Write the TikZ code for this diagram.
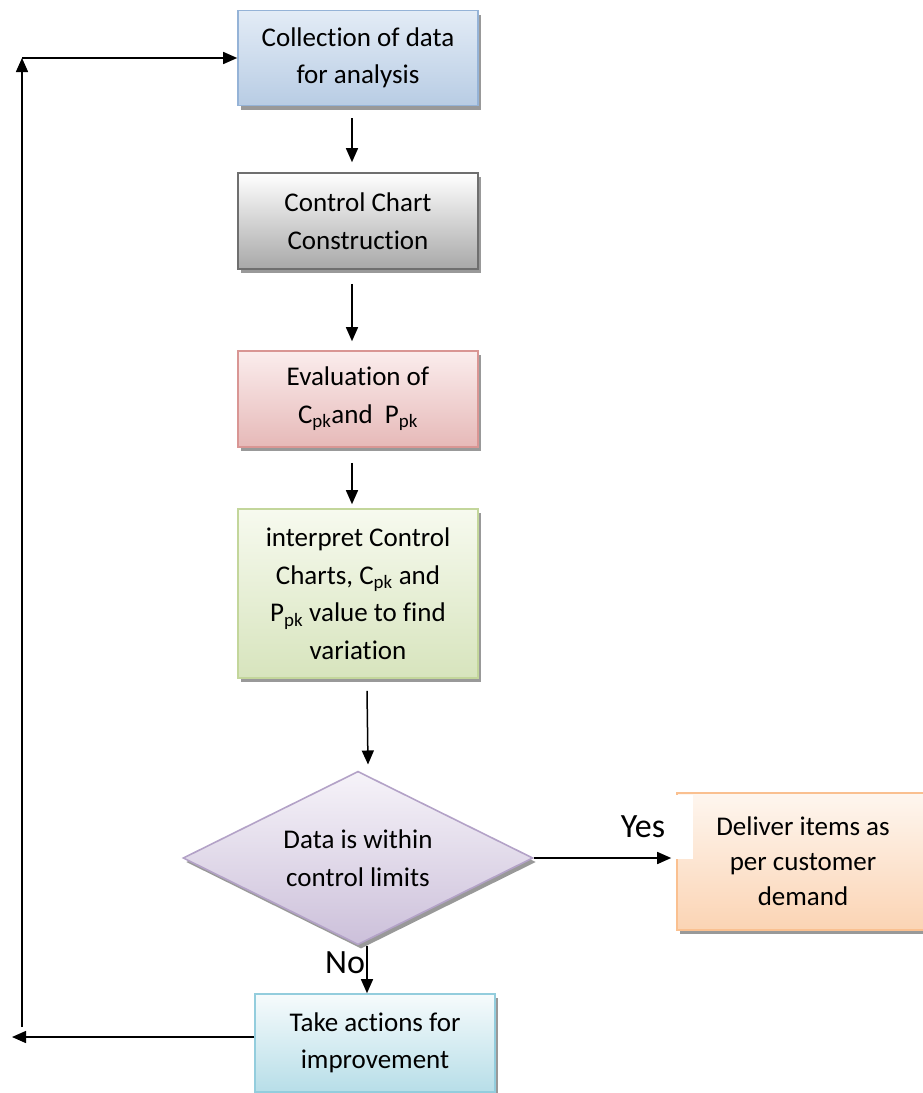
\documentclass[tikz,border=0pt]{standalone}
\usepackage{fontspec}
\setmainfont{Carlito}[Ligatures=CommonOff]
\usetikzlibrary{shapes.geometric,arrows.meta,shadows,calc}
\definecolor{b1top}{HTML}{E3ECF6}\definecolor{b1bot}{HTML}{B8CCE4}\definecolor{b1line}{HTML}{95B3D7}
\definecolor{b2top}{HTML}{FFFFFF}\definecolor{b2bot}{HTML}{A8A8A8}\definecolor{b2line}{HTML}{6F6F6F}
\definecolor{b3top}{HTML}{FBEDED}\definecolor{b3bot}{HTML}{E6B9B8}\definecolor{b3line}{HTML}{D99694}
\definecolor{b4top}{HTML}{F7FAEF}\definecolor{b4bot}{HTML}{D7E4BD}\definecolor{b4line}{HTML}{C3D69B}
\definecolor{dtop}{HTML}{F6F3F9}\definecolor{dbot}{HTML}{CCC0DA}\definecolor{dline}{HTML}{B3A2C7}
\definecolor{otop}{HTML}{FEF6EF}\definecolor{obot}{HTML}{FBD4B4}\definecolor{oline}{HTML}{FAC090}
\definecolor{ttop}{HTML}{F6FBFC}\definecolor{tbot}{HTML}{B7DEE8}\definecolor{tline}{HTML}{93CDDD}
\begin{document}
\begin{tikzpicture}[x=1pt,y=-1pt,
  boxbase/.style={rectangle, line width=1.6pt, align=center, inner sep=0pt,
    font=\fontsize{27}{37.5}\selectfont,
    drop shadow={shadow xshift=3pt,shadow yshift=-4pt,fill=black!40,opacity=1}},
  flowbox/.style={boxbase, minimum width=240pt},
  arr/.style={line width=1.5pt, -{Triangle[length=14pt,width=12pt]}},
  lbl/.style={font=\fontsize{34}{36}\selectfont, inner sep=0pt}]
\clip (0,0) rectangle (923,1093);
% boxes
\node[flowbox, minimum height=95pt, draw=b1line, top color=b1top, bottom color=b1bot] (c1) at (358,58) {Collection of data\\for analysis};
\node[flowbox, minimum height=96pt, draw=b2line, top color=b2top, bottom color=b2bot] (c2) at (358,221) {Control Chart\\Construction};
\node[flowbox, minimum height=96pt, draw=b3line, top color=b3top, bottom color=b3bot] (c3) at (358,399) {Evaluation of\\C\textsubscript{pk}and\ \ P\textsubscript{pk}};
\node[flowbox, minimum height=169pt, draw=b4line, top color=b4top, bottom color=b4bot] (c4) at (358,593.5) {interpret Control\\Charts, C\textsubscript{pk} and\\P\textsubscript{pk} value to find\\variation};
\node[boxbase, diamond, minimum width=350pt, minimum height=154pt, inner sep=-8pt, draw=dline, top color=dtop, bottom color=dbot] (d) at (358,858) {\rule{0pt}{12pt}Data is within\\control limits};
\node[boxbase, minimum width=252pt, minimum height=137pt, font=\fontsize{27}{35}\selectfont, draw=oline, top color=otop, bottom color=obot] (del) at (803,861.5) {Deliver items as\\per customer\\demand};
\node[flowbox, minimum height=98pt, draw=tline, top color=ttop, bottom color=tbot] (t) at (375,1043) {Take actions for\\improvement};
% labels
\node[lbl, fill=white, minimum width=88pt, minimum height=64pt] (yes) at (649,827) {Yes\hspace*{12pt}};
\node[lbl] (no) at (345,963) {No};
% connectors
\draw[arr] ($(c1.south)+(-6,12)$) -- ($(c2.north)+(-6,-10)$);
\draw[arr] ($(c2.south)+(-6,14)$) -- ($(c3.north)+(-6,-9)$);
\draw[arr] ($(c3.south)+(-6,15)$) -- ($(c4.north)+(-6,-4)$);
\draw[arr] ($(c4.south)+(9,12)$) -- ($(d.north)+(10,-6)$);
\draw[arr] (d.east) -- ($(del.west)+(-5,-3.5)$);
\draw[arr] ($(d.south)+(9,0)$) -- ($(t.north)+(-8,0)$);
\coordinate (lend) at (12,1037);
\coordinate (lbot) at (22,1027);
\coordinate (ltop) at (22,58);
\draw[arr] ($(t.west)+(0,-6)$) -- (lend);
\draw[arr] (lbot) -- (ltop);
\draw[arr] (ltop) -- (c1.west);
\end{tikzpicture}
\end{document}
